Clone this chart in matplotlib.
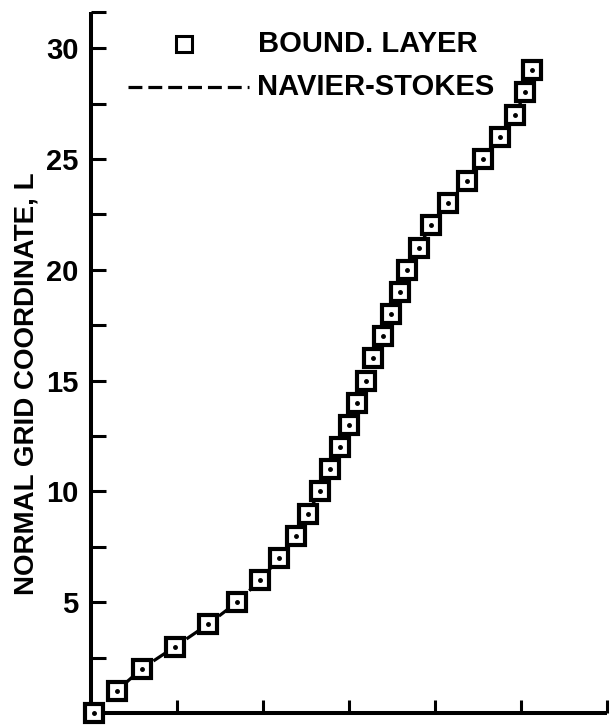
#!/usr/bin/env python3
"""Normal grid coordinate distribution: boundary layer vs Navier-Stokes."""

import matplotlib
matplotlib.use("Agg")
import matplotlib.pyplot as plt
from matplotlib.ticker import FixedLocator, NullFormatter

plt.rcParams["font.family"] = ["Liberation Sans", "DejaVu Sans"]
plt.rcParams["font.weight"] = "bold"
plt.rcParams["lines.scale_dashes"] = False

# grid index L and the abscissa of each grid point
grid_L = list(range(30))
bl_x = [0.03, 0.30, 0.59, 0.98, 1.36, 1.70, 1.97, 2.19, 2.38, 2.52,
        2.66, 2.78, 2.90, 3.00, 3.09, 3.20, 3.28, 3.39, 3.49, 3.59,
        3.68, 3.81, 3.95, 4.15, 4.37, 4.56, 4.76, 4.93, 5.05, 5.13]
ns_x = [0.03, 0.30, 0.59, 0.98, 1.36, 1.70, 1.97, 2.19, 2.38, 2.52,
        2.66, 2.78, 2.90, 3.00, 3.09, 3.20, 3.28, 3.39, 3.49, 3.59,
        3.68, 3.81, 3.95, 4.15, 4.37, 4.56, 4.76, 4.93, 5.05, 5.13]

y_major = [5, 10, 15, 20, 25, 30]
y_minor = [2.5, 7.5, 12.5, 17.5, 22.5, 27.5, 31.63]
x_ticks = [1, 2, 3, 4, 5, 6]

fig = plt.figure(figsize=(6.11, 7.27), dpi=100)
ax = fig.add_axes([91 / 611, 1 - 713 / 727, 516 / 611, 701 / 727])

ax.plot(ns_x, grid_L, color="black", lw=2.3, dashes=(10, 4.3),
        clip_on=False, zorder=3)
ax.plot(bl_x, grid_L, ls="none", marker="s", ms=13, mew=3.0,
        mfc="white", mec="black", clip_on=False, zorder=4)
ax.plot(bl_x, grid_L, ls="none", marker="o", ms=2.5, color="black",
        clip_on=False, zorder=5)

ax.set_xlim(0, 6)
ax.set_ylim(0, 31.63)

for side in ("top", "right"):
    ax.spines[side].set_visible(False)
for side in ("left", "bottom"):
    ax.spines[side].set_linewidth(2.9)
    ax.spines[side].set_capstyle("butt")

ax.yaxis.set_major_locator(FixedLocator(y_major))
ax.yaxis.set_minor_locator(FixedLocator(y_minor))
ax.yaxis.set_minor_formatter(NullFormatter())
ax.xaxis.set_major_locator(FixedLocator(x_ticks))
ax.xaxis.set_major_formatter(NullFormatter())

ax.tick_params(axis="y", which="both", direction="in", length=11, width=2.2,
               labelsize=21, pad=9)
ax.tick_params(axis="x", which="both", direction="in", length=9.5, width=2.2)

ax.set_ylabel("NORMAL GRID COORDINATE, L", fontsize=20, fontweight="bold")
ax.yaxis.set_label_coords(-0.100, 0.47)

# legend key drawn by hand
ax.plot([0.180], [0.954], transform=ax.transAxes, marker="s", ms=12,
        mew=2.2, mfc="white", mec="black", clip_on=False)
ax.plot([0.072, 0.306], [0.893, 0.893], transform=ax.transAxes,
        color="black", lw=2.3, dashes=(10, 4.3), clip_on=False)
ax.text(0.324, 0.954, "BOUND. LAYER", transform=ax.transAxes,
        fontsize=21, fontweight="bold", va="center", ha="left")
ax.text(0.322, 0.893, "NAVIER-STOKES", transform=ax.transAxes,
        fontsize=21, fontweight="bold", va="center", ha="left")

fig.savefig("out.png", dpi=100)
